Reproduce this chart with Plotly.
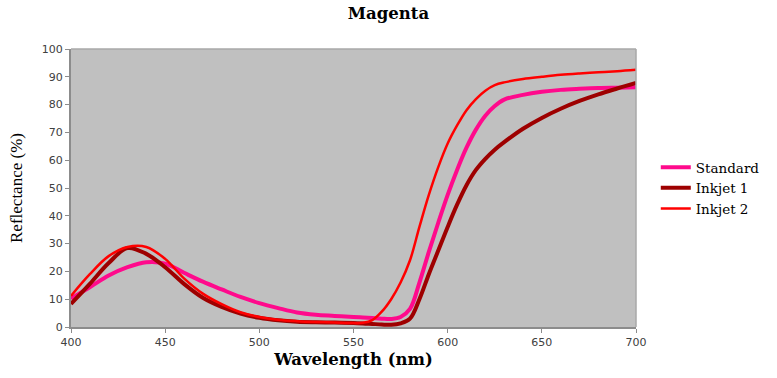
import plotly.graph_objects as go

# Spectral reflectance of magenta patches
wavelength = [400, 410, 420, 430, 440, 450, 460, 470, 480, 490, 500, 510, 520, 530, 540, 550,
              555, 560, 565, 570, 575, 580, 585, 590, 595, 600, 605, 610, 615, 620, 625, 630,
              640, 650, 660, 670, 680, 690, 700]

standard = [10.2, 14.3, 18.5, 21.5, 23.3, 22.8, 19.5, 16.3, 13.5, 10.8, 8.6, 6.8, 5.2, 4.4, 4.0, 3.6,
            3.4, 3.2, 3.0, 2.9, 3.6, 6.5, 16, 27, 37.5, 47.5, 56.5, 64.5, 71, 76, 79.5, 81.8,
            83.5, 84.6, 85.3, 85.7, 86.0, 86.1, 86.2]

inkjet1 = [8.3, 15.5, 23, 28.4, 26.3, 21.5, 15.5, 10.5, 7.2, 4.8, 3.3, 2.4, 1.9, 1.7, 1.6, 1.4,
           1.3, 1.1, 0.9, 0.8, 1.3, 3.0, 10, 19, 27.5, 36, 44, 51, 56.5, 60.5, 63.8, 66.5,
           71.3, 75.2, 78.5, 81.3, 83.7, 85.8, 87.8]

inkjet2 = [11.2, 19, 25.5, 28.8, 28.8, 24.5, 17.5, 12, 8.2, 5.3, 3.6, 2.6, 2.1, 1.8, 1.6, 1.4,
           1.5, 2.5, 5.5, 10, 16, 24, 36, 47.5, 57.5, 66, 72.5, 78, 82, 85, 87, 88,
           89.2, 90, 90.7, 91.2, 91.6, 92, 92.5]

series = [
    ("Standard", standard, "#FF0A8C", 4),
    ("Inkjet 1", inkjet1, "#9E0000", 4),
    ("Inkjet 2", inkjet2, "#FF0000", 2.5),
]

fig = go.Figure()
for name, vals, color, width in series:
    fig.add_trace(go.Scatter(
        x=wavelength, y=vals, name=name, mode="lines",
        line=dict(color=color, width=width, shape="spline", smoothing=1.0),
    ))

tick_font = dict(family="DejaVu Sans", size=11, color="#404040")

fig.update_layout(
    width=777, height=378,
    margin=dict(l=71, r=124, t=49, b=44),
    paper_bgcolor="white",
    plot_bgcolor="#C0C0C0",
    title=dict(text="<b>Magenta</b>", x=0.5, xanchor="center",
               y=1 - 13 / 378, yref="container", yanchor="middle",
               font=dict(family="DejaVu Serif", size=16.5, color="black")),
    legend=dict(x=1.035, xanchor="left", y=0.5, yanchor="middle",
                font=dict(family="DejaVu Serif", size=13.5, color="black"),
                tracegroupgap=0, itemwidth=30, bgcolor="rgba(0,0,0,0)"),
    showlegend=True,
)

fig.update_xaxes(
    range=[400, 700], tickvals=[400, 450, 500, 550, 600, 650, 700],
    showgrid=False, zeroline=False,
    showline=True, linecolor="#8C8C8C", linewidth=2,
    ticks="outside", ticklen=4, tickcolor="#8C8C8C", tickwidth=1,
    tickfont=tick_font,
    title=dict(text="<b>Wavelength (nm)</b>", standoff=5,
               font=dict(family="DejaVu Serif", size=16.5, color="black")),
)
fig.update_yaxes(
    range=[0, 100], tickvals=list(range(0, 101, 10)),
    showgrid=False, zeroline=False,
    showline=True, linecolor="#8C8C8C", linewidth=2,
    ticks="outside", ticklen=4, tickcolor="#8C8C8C", tickwidth=1,
    tickfont=tick_font,
    title=dict(text="Reflectance (%)", standoff=15,
               font=dict(family="Liberation Serif", size=17, color="black")),
)

# light frame on the top and right edges of the plot area
fig.add_shape(type="line", xref="paper", yref="paper", x0=0, x1=1, y0=1, y1=1,
              line=dict(color="#A8A8A8", width=1.5), layer="above")
fig.add_shape(type="line", xref="paper", yref="paper", x0=1, x1=1, y0=0, y1=1,
              line=dict(color="#A8A8A8", width=1.5), layer="above")

fig.write_html("out.html")
